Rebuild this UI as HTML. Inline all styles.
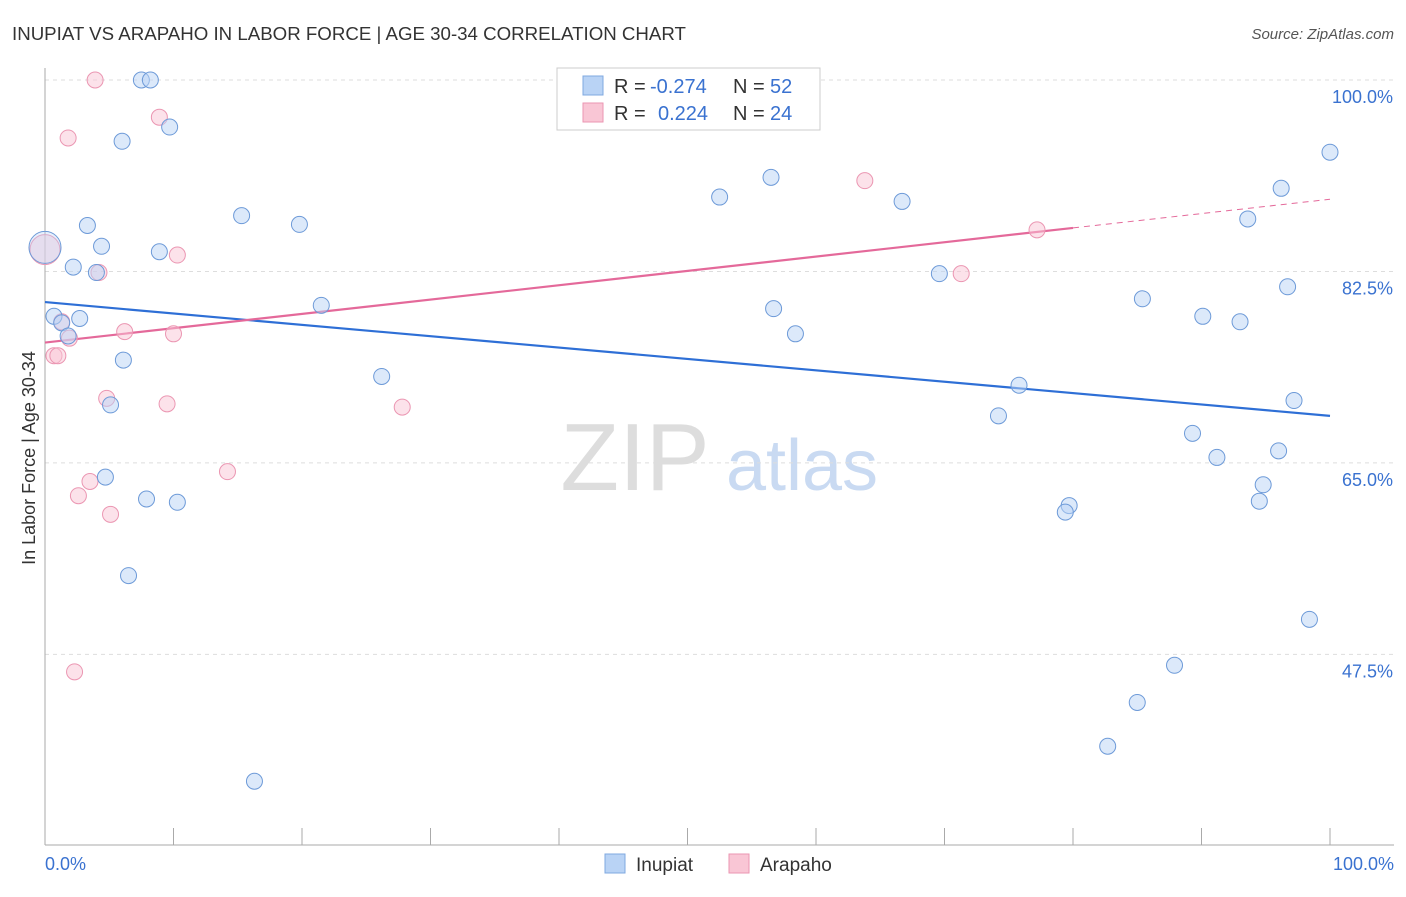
<!DOCTYPE html>
<html><head><meta charset="utf-8"><style>
body{margin:0;background:#fff;font-family:"Liberation Sans",sans-serif;}
svg text{font-family:"Liberation Sans",sans-serif;}
</style></head><body>
<svg id="chart" width="1406" height="892" viewBox="0 0 1406 892">
<text x="12" y="40" font-size="18.7" fill="#333">INUPIAT VS ARAPAHO IN LABOR FORCE | AGE 30-34 CORRELATION CHART</text>
<text x="1394" y="39" font-size="15" fill="#555" font-style="italic" text-anchor="end">Source: ZipAtlas.com</text>
<text x="35" y="458" font-size="18" fill="#333" text-anchor="middle" transform="rotate(-90 35 458)">In Labor Force | Age 30-34</text>
<g>
<text x="635" y="490" font-size="96" fill="#ddd" font-family="Liberation Serif" text-anchor="middle">ZIP</text>
<text x="802" y="490" font-size="72" fill="#c9daf2" text-anchor="middle">atlas</text>
</g>
<g id="grid"></g><g id="axes"></g><g id="lines"></g><g id="points"></g>
<g>
<rect x="557" y="68" width="263" height="62" fill="#fff" stroke="#ccc"/>
<rect x="583" y="76" width="20" height="19" fill="#b9d3f5" stroke="#7fa8e0"/>
<rect x="583" y="103" width="20" height="19" fill="#f9c6d5" stroke="#eb96b2"/>
<text x="614" y="93" font-size="20" fill="#333">R =</text>
<text x="650" y="93" font-size="20" fill="#3a72d0">-0.274</text>
<text x="733" y="93" font-size="20" fill="#333">N =</text>
<text x="770" y="93" font-size="20" fill="#3a72d0">52</text>
<text x="614" y="120" font-size="20" fill="#333">R =</text>
<text x="658" y="120" font-size="20" fill="#3a72d0">0.224</text>
<text x="733" y="120" font-size="20" fill="#333">N =</text>
<text x="770" y="120" font-size="20" fill="#3a72d0">24</text>
</g>
<g>
<rect x="605" y="854" width="20" height="19" fill="#b9d3f5" stroke="#7fa8e0"/>
<text x="636" y="871" font-size="19" fill="#333">Inupiat</text>
<rect x="729" y="854" width="20" height="19" fill="#f9c6d5" stroke="#eb96b2"/>
<text x="760" y="871" font-size="19" fill="#333">Arapaho</text>
</g>
</svg>
<script>
const yTicks=[100,82.5,65,47.5];
const yTickLabels=["100.0%","82.5%","65.0%","47.5%"];
const xTickLabels=["0.0%","100.0%"];
const inupiatX=[0,0.7,1.3,1.8,2.7,2.2,3.3,4.4,4.0,6.0,7.5,8.2,9.7,8.9,6.1,5.1,4.7,7.9,10.3,6.5,15.3,19.8,21.5,26.2,16.3,52.5,56.5,56.7,58.4,66.7,69.6,75.8,74.2,79.7,79.4,85.4,85.0,82.7,87.9,90.1,89.3,91.2,93.0,93.6,96.2,96.7,100,97.2,96.0,94.8,94.5,98.4];
const inupiatY=[84.7,78.4,77.8,76.6,78.2,82.9,86.7,84.8,82.4,94.4,100,100,95.7,84.3,74.4,70.3,63.7,61.7,61.4,54.7,87.6,86.8,79.4,72.9,35.9,89.3,91.1,79.1,76.8,88.9,82.3,72.1,69.3,61.1,60.5,80.0,43.1,39.1,46.5,78.4,67.7,65.5,77.9,87.3,90.1,81.1,93.4,70.7,66.1,63.0,61.5,50.7];
const arapahoX=[0,3.9,1.8,8.9,10.3,4.2,1.3,1.9,6.2,10.0,0.7,1.0,4.8,9.5,27.8,14.2,3.5,2.6,5.1,2.3,63.8,77.2,71.3];
const arapahoY=[84.5,100,94.7,96.6,84.0,82.4,77.9,76.4,77.0,76.8,74.8,74.8,70.9,70.4,70.1,64.2,63.3,62.0,60.3,45.9,90.8,86.3,82.3];
const inupiatTrend=[79.7,69.3];
const arapahoTrend=[76.0,89.1];
const NS="http://www.w3.org/2000/svg";
const X=v=>45+v*12.85, Y=v=>80+(100-v)*10.94;
function mk(t,a,p){const e=document.createElementNS(NS,t);for(const k in a)e.setAttribute(k,a[k]);document.getElementById(p).appendChild(e);return e;}
yTicks.forEach((t,i)=>{
 let g=mk('line',{x1:45,x2:1394,y1:Y(t),y2:Y(t),stroke:'#ddd','stroke-dasharray':'4,4'},'grid');
 
 
 let l=mk('text',{x:1393,y:Y(t)+23,'font-size':18,fill:'#3a72d0','text-anchor':'end'},'axes');
 l.textContent=yTickLabels[i];
 
 
});
let ax=mk('line',{x1:45,x2:1394,y1:845,y2:845,stroke:'#aaa'},'axes');


let ay=mk('line',{x1:45,x2:45,y1:68,y2:845,stroke:'#aaa'},'axes');


for(let i=1;i<=10;i++){let t=mk('line',{x1:X(i*10),x2:X(i*10),y1:828,y2:845,stroke:'#aaa'},'axes');
 
 }
[[0,'start',45],[100,'end',1394]].forEach((d,i)=>{let l=mk('text',{x:d[2],y:870,'font-size':18,fill:'#3a72d0','text-anchor':d[1]},'axes');l.textContent=xTickLabels[i];
 
 });
let bl=mk('line',{x1:X(0),x2:X(100),y1:Y(inupiatTrend[0]),y2:Y(inupiatTrend[1]),stroke:'#2e6fd6','stroke-width':2.2},'lines');


const pa=v=>arapahoTrend[0]+(arapahoTrend[1]-arapahoTrend[0])*v/100;
let pl=mk('line',{x1:X(0),x2:X(80),y1:Y(pa(0)),y2:Y(pa(80)),stroke:'#e4699a','stroke-width':2.2},'lines');


let pd=mk('line',{x1:X(80),x2:X(100),y1:Y(pa(80)),y2:Y(pa(100)),stroke:'#e4699a','stroke-width':1,'stroke-dasharray':'6,5'},'lines');


arapahoX.forEach((x,i)=>{let c=mk('circle',{cx:X(x),cy:Y(arapahoY[i]),r:i==0?15:8,fill:'#f9c6d5','fill-opacity':0.5,stroke:'#eb96b2'},'points');
 
 });
inupiatX.forEach((x,i)=>{let c=mk('circle',{cx:X(x),cy:Y(inupiatY[i]),r:i==0?16:8,fill:'#b9d3f5','fill-opacity':i==0?0.35:0.5,stroke:'#6d9ad8'},'points');
 
 });
</script>
</body></html>
